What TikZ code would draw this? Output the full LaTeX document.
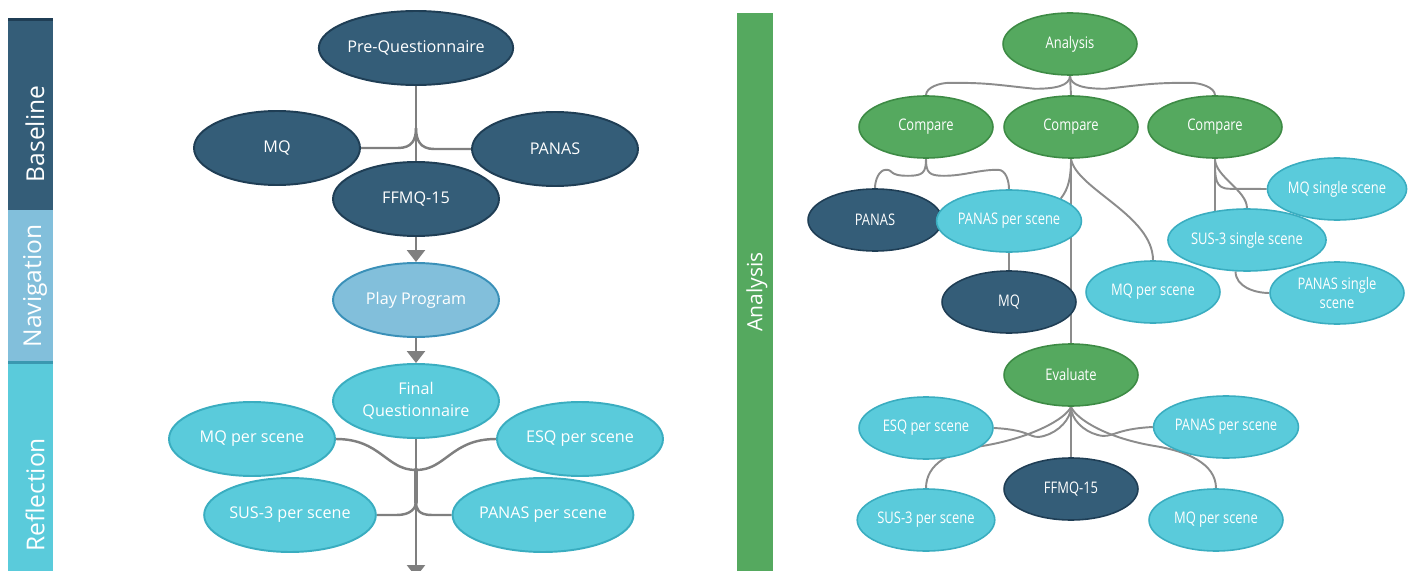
\documentclass[tikz,border=0pt]{standalone}
\usepackage{fontspec}
\setmainfont{Open Sans}
\newfontfamily\narrowsans[FakeStretch=0.81]{Open Sans}
\usetikzlibrary{arrows.meta,shapes.geometric,backgrounds}
\definecolor{studydeep}{HTML}{345D78}
\definecolor{studydeepedge}{HTML}{1F3E55}
\definecolor{studypale}{HTML}{82BFDB}
\definecolor{studypaleedge}{HTML}{3A90B8}
\definecolor{studyaqua}{HTML}{5ACBDB}
\definecolor{studyaquaedge}{HTML}{3AADC0}
\definecolor{studyrule}{HTML}{3A98B0}
\definecolor{studyleaf}{HTML}{55A95F}
\definecolor{studyleafedge}{HTML}{3D8B45}
\definecolor{studygrey}{HTML}{7F7F7F}
\definecolor{studytwig}{HTML}{8C8C8C}

\begin{document}
\begin{tikzpicture}[
  x=0.02cm,
  y=-0.02cm,
  every node/.style={text=white},
  bubble/.style={ellipse, line width=1.1pt, minimum width=3.32cm,
    minimum height=1.48cm, inner sep=0pt, align=center,
    font=\fontsize{9.2}{12.5}\selectfont},
  rbubble/.style={ellipse, line width=0.9pt, minimum width=2.68cm,
    minimum height=1.24cm, inner sep=0pt, align=center,
    font=\narrowsans\fontsize{9.1}{10.8}\selectfont},
  deep/.style={fill=studydeep, draw=studydeepedge},
  pale/.style={fill=studypale, draw=studypaleedge},
  aqua/.style={fill=studyaqua, draw=studyaquaedge},
  leaf/.style={fill=studyleaf, draw=studyleafedge},
  link/.style={studygrey, line width=1.4pt},
  flow/.style={link, -{Triangle[width=0.36cm, length=0.24cm]}},
  twig/.style={studytwig, line width=1.1pt},
  sidelabel/.style={rotate=90, inner sep=0pt}
]
  \useasboundingbox (0,0) rectangle (1414,571);

  % ---- phase bars ----------------------------------------------------
  \fill[studydeep] (8,19) rectangle (53,210);
  \fill[studydeepedge] (8,18) rectangle (53,21);
  \fill[studypale] (8,210) rectangle (53,362);
  \fill[studyaqua] (8,362) rectangle (53,571);
  \fill[studyrule] (8,360.5) rectangle (53,363.5);
  \node[sidelabel, font=\fontsize{14}{16}\selectfont] (lbase) at (35,134) {Baseline};
  \node[sidelabel, font=\fontsize{14}{16}\selectfont] (lnav) at (35,286) {Navigation};
  \node[sidelabel, font=\fontsize{14}{16}\selectfont] (lrefl) at (35,495) {Reflection};

  \fill[studyleaf] (737,13) rectangle (773,571);
  \node[sidelabel, font=\fontsize{12}{14}\selectfont] (lana) at (757,292) {Analysis};

  % ---- left: the session ---------------------------------------------
  \node[bubble, deep] (preq) at (416,48) {Pre-Questionnaire};
  \node[bubble, deep] (mq) at (277,148) {MQ};
  \node[bubble, deep] (panas) at (555,149) {PANAS};
  \node[bubble, deep] (ffmq) at (416,199) {FFMQ-15};
  \node[bubble, pale] (play) at (416,300) {Play Program};
  \node[bubble, aqua] (final) at (416,401) {Final\\Questionnaire};
  \node[bubble, aqua] (mqs) at (252,439) {MQ per scene};
  \node[bubble, aqua] (esq) at (580,439) {ESQ per scene};
  \node[bubble, aqua] (suss) at (290,515) {SUS-3 per scene};
  \node[bubble, aqua] (ppss) at (543,515) {PANAS per scene};

  \coordinate (bjoin) at (416,128);
  \coordinate (rjoina) at (416,470);
  \coordinate (rjoinb) at (416,502);
  \coordinate (tail) at (416,577);

  \begin{pgfonlayer}{background}
    \draw[link] (preq.south) -- (ffmq.north);
    \draw[link] (mq.east) -- ++(37,0) .. controls +(14,0) and +(0,12) .. (bjoin);
    \draw[link] (panas.west) -- ++(-37,0) .. controls +(-14,0) and +(0,12) .. (bjoin);
    \draw[link] (mqs.east) .. controls +(45,0) and +(-30,0) .. (rjoina);
    \draw[link] (esq.west) .. controls +(-45,0) and +(30,0) .. (rjoina);
    \draw[link] (suss.east) -- ++(20,0) .. controls +(14,0) and +(0,6) .. (rjoinb);
    \draw[link] (ppss.west) -- ++(-20,0) .. controls +(-14,0) and +(0,6) .. (rjoinb);
    \draw[link, line width=2.6pt, line cap=round] (rjoina) -- (rjoinb);
  \end{pgfonlayer}
  \draw[flow] (ffmq.south) -- (play.north);
  \draw[flow] (play.south) -- (final.north);
  \draw[flow] (final.south) -- (tail);

  % ---- right: the analysis -------------------------------------------
  \node[rbubble, leaf] (ana) at (1070,44) {Analysis};
  \node[rbubble, leaf] (cmpa) at (926,127) {Compare};
  \node[rbubble, leaf] (cmpb) at (1071,127) {Compare};
  \node[rbubble, leaf] (cmpc) at (1215,127) {Compare};
  \node[rbubble, deep] (pan) at (875,220) {PANAS};
  \node[rbubble, aqua] (ppsa) at (1009,221) {PANAS per scene};
  \node[rbubble, deep] (mqd) at (1009,302) {MQ};
  \node[rbubble, aqua] (mqpa) at (1153,292) {MQ per scene};
  \node[rbubble, aqua] (msi) at (1337,189) {MQ single scene};
  \node[rbubble, aqua] (ssi) at (1247,240) {SUS-3 single scene};
  \node[rbubble, aqua] (psi) at (1337,293) {PANAS single\\scene};
  \node[rbubble, leaf] (eval) at (1071,375) {Evaluate};
  \node[rbubble, aqua] (esqe) at (926,428) {ESQ per scene};
  \node[rbubble, aqua] (ppse) at (1226,427) {PANAS per scene};
  \node[rbubble, deep] (ffe) at (1071,489) {FFMQ-15};
  \node[rbubble, aqua] (suse) at (926,520) {SUS-3 per scene};
  \node[rbubble, aqua] (mqe) at (1216,520) {MQ per scene};

  \begin{pgfonlayer}{background}
    % analysis to the three comparisons
    \draw[twig] (ana.south) -- (cmpb.north);
    \draw[twig] (ana.south) .. controls +(0,10) and +(20,0) .. ++(-35,13)
      .. controls +(-40,-4) and +(40,0) .. ++(-85,-6)
      .. controls +(-10,0) and +(0,-8) .. (cmpa.north);
    \draw[twig] (ana.south) .. controls +(0,10) and +(-20,0) .. ++(35,13)
      .. controls +(40,-4) and +(-40,0) .. ++(85,-6)
      .. controls +(10,0) and +(0,-8) .. (cmpc.north);
    % first comparison
    \draw[twig] (cmpa.south) .. controls +(0,14) and +(15,0) .. ++(-18,17)
      .. controls +(-20,0) and +(8,0) .. ++(-22,-6)
      .. controls +(-7,0) and +(0,-8) .. (pan.north);
    \draw[twig] (cmpa.south) .. controls +(0,14) and +(-15,0) .. ++(18,17)
      .. controls +(20,0) and +(-20,0) .. ++(54,-6)
      .. controls +(8,0) and +(0,-8) .. (ppsa.north);
    \draw[twig] (ppsa.south) -- (mqd.north);
    % second comparison
    \draw[twig] (cmpb.south) -- (eval.north);
    \draw[twig] (cmpb.south) .. controls +(0,18) and +(8,-10) .. (ppsa.north east);
    \draw[twig] (cmpb.south) .. controls +(5,30) and +(0,-45) .. (mqpa.north);
    % third comparison
    \draw[twig] (cmpc.south) -- (cmpc.south |- ssi.center);
    \draw[twig] (cmpc.south) .. controls +(0,20) and +(-15,0) .. ++(15,30) -- (msi.west);
    \draw[twig] (cmpc.south) .. controls +(0,18) and +(0,-18) .. (ssi.north);
    \draw[twig] (ssi.250) .. controls +(0,15) and +(-15,0) .. (psi.west);
    % evaluation
    \draw[twig] (eval.south) -- (ffe.north);
    \draw[twig] (esqe.east) .. controls +(40,2) and +(-15,4) .. ++(50,8)
      .. controls +(15,-4) and +(0,12) .. (eval.south);
    \draw[twig] (ppse.west) .. controls +(-40,2) and +(15,4) .. ++(-55,8)
      .. controls +(-15,-4) and +(0,12) .. (eval.south);
    \draw[twig] (suse.north) .. controls +(0,-25) and +(-30,5) .. ++(55,-42)
      .. controls +(50,-8) and +(-5,12) .. (eval.south);
    \draw[twig] (mqe.north) .. controls +(0,-25) and +(30,5) .. ++(-60,-42)
      .. controls +(-50,-8) and +(5,12) .. (eval.south);
  \end{pgfonlayer}

\end{tikzpicture}
\end{document}
